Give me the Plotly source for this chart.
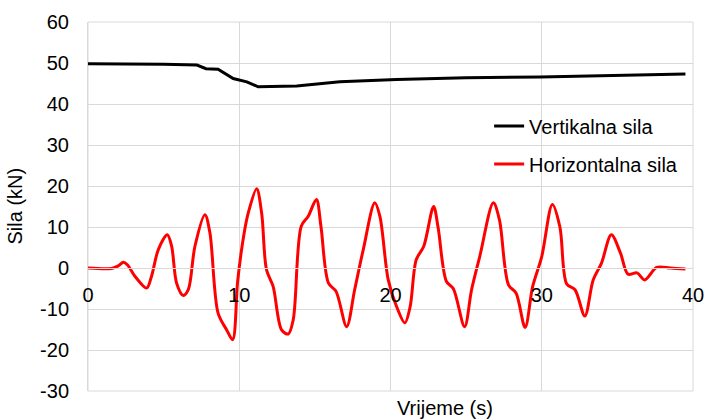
import plotly.graph_objects as go

# Data
time_h = [0, 1.56, 2.0, 2.34, 2.6, 3.1, 3.88, 4.2, 4.65, 5.24, 5.53, 5.86, 6.3, 6.63, 7.07, 7.73,
          8.06, 8.6, 9.17, 9.56, 9.9, 10.3, 10.6, 11.15, 11.48, 11.8, 12.24, 12.8, 13.24, 13.57,
          14.1, 14.56, 15.1, 15.4, 15.9, 16.4, 17.1, 17.63, 18.2, 18.96, 19.3, 19.85, 20.4, 20.95,
          21.3, 21.7, 22.2, 22.85, 23.15, 23.7, 24.15, 24.9, 25.36, 25.9, 26.8, 27.2, 27.8, 28.3,
          28.9, 29.4, 30.0, 30.7, 31.2, 31.65, 32.2, 32.85, 33.4, 33.95, 34.6, 35.2, 35.7, 36.3,
          36.8, 37.6, 38.5, 39.5]
horizontal = [0, -0.1, 0.5, 1.4, 0.8, -2, -4.9, -2, 4.5, 8.1, 5.3, -3.7, -6.7, -5.3, 5.3, 13.0,
              8.6, -11, -15.1, -17.5, -3, 8, 13.5, 19.3, 13.4, -0.4, -4.5, -15.1, -16.1, -12.6,
              10.2, 12.6, 16.7, 10.2, -3.7, -5.7, -14.3, -5.3, 4.5, 15.9, 12.6, -2.9, -9.4, -13.4,
              -9.4, 2.0, 5.3, 15.0, 9.8, -3.3, -5.0, -14.3, -5.3, 2.8, 15.9, 11.8, -4.1, -6.1,
              -14.5, -4.5, 2.8, 15.5, 10, -3.9, -5.3, -11.7, -2.9, 1.2, 8.1, 3.7, -1.5, -1.2,
              -2.9, 0.15, 0, -0.25]

time_v = [0, 3, 5, 7.2, 7.8, 8.6, 9.6, 10.5, 11.25, 13.8, 16.65, 20.4, 25, 29.9, 35, 39.5]
vertical = [49.8, 49.8, 49.7, 49.5, 48.6, 48.5, 46.2, 45.4, 44.2, 44.4, 45.4, 46.0, 46.4, 46.6, 47.0, 47.3]

x_ticks = [0, 10, 20, 30, 40]
y_ticks = [-30, -20, -10, 0, 10, 20, 30, 40, 50, 60]

FONT = "Liberation Sans, Arial, sans-serif"
GRID = "#d9d9d9"

fig = go.Figure()
fig.add_trace(go.Scatter(x=time_v, y=vertical, mode="lines", name="Vertikalna sila",
                         line=dict(color="black", width=3), legendgroup="v"))
fig.add_trace(go.Scatter(x=time_h, y=horizontal, mode="lines", name="Horizontalna sila",
                         line=dict(color="#ff0000", width=3, shape="spline", smoothing=0.9),
                         legendgroup="h"))

fig.update_layout(
    width=707, height=419,
    margin=dict(l=88, r=14, t=22, b=28),
    paper_bgcolor="white", plot_bgcolor="white",
    font=dict(family=FONT, size=20, color="black"),
    showlegend=True,
    legend=dict(x=0.663, y=0.771, xanchor="left", yanchor="top",
                bgcolor="rgba(0,0,0,0)", font=dict(size=20), tracegroupgap=9,
                traceorder="grouped"),
    xaxis=dict(range=[0, 40], tickvals=x_ticks, ticktext=[str(v) for v in x_ticks],
               showgrid=True, gridcolor=GRID, gridwidth=1, zeroline=False,
               anchor="free", position=30 / 90, showline=True, linecolor=GRID,
               ticks="outside", ticklen=9, tickcolor="rgba(0,0,0,0)", automargin=False,
               tickfont=dict(size=20, color="black")),
    yaxis=dict(range=[-30, 60], tickvals=y_ticks, ticktext=[str(v) for v in y_ticks],
               showgrid=True, gridcolor=GRID, gridwidth=1, zeroline=False,
               showline=True, linecolor=GRID, automargin=False,
               ticks="outside", ticklen=14, tickcolor="rgba(0,0,0,0)",
               tickfont=dict(size=20, color="black")),
    shapes=[dict(type="rect", xref="paper", yref="paper", x0=0, x1=1, y0=0, y1=1,
                 line=dict(color=GRID, width=1), layer="below")],
    annotations=[
        dict(text="Vrijeme (s)", xref="paper", yref="paper", x=0.59, y=0, yshift=-17,
             showarrow=False, xanchor="center", yanchor="middle", font=dict(size=20)),
        dict(text="Sila (kN)", xref="paper", yref="paper", x=0, xshift=-74, y=0.5,
             showarrow=False, textangle=-90, xanchor="center", yanchor="middle",
             font=dict(size=20)),
    ],
)

fig.write_html("out.html", config={"displayModeBar": False},
               post_script="document.body.style.margin='0';document.body.style.overflow='hidden';")
